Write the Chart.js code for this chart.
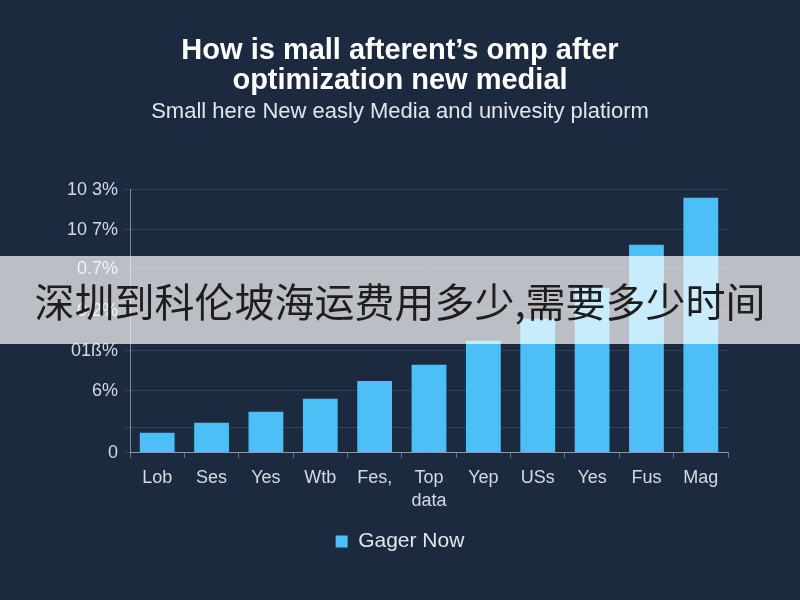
<!DOCTYPE html>
<html>
<head>
<meta charset="utf-8">
<script src="https://cdn.jsdelivr.net/npm/chart.js@4"></script>
<style>
    body { margin: 0; background: #1b2a3e; }
    #wrap { position: relative; width: 800px; height: 600px; }
    #banner {
        position: absolute; left: 0; top: 256px; width: 800px; height: 88px;
        background: rgba(255, 255, 255, 0.7);
        font-family: "Noto Sans CJK SC", sans-serif; font-size: 40px; color: #1e1e1e;
        display: flex; align-items: center; justify-content: center;
    }
</style>
</head>
<body>
<div id="wrap">
    <canvas id="barChart" width="800" height="600"></canvas>
    <div id="banner">深圳到科伦坡海运费用多少,需要多少时间</div>
</div>
<script>
const categories = ['Lob', 'Ses', 'Yes', 'Wtb', 'Fes,', 'Top', 'Yep', 'USs', 'Yes', 'Fus', 'Mag'];
const values = [0.8, 1.2, 1.64, 2.16, 2.87, 3.51, 4.47, 5.35, 6.59, 8.3, 10.18];
const yTickValues = [0, 1, 2.47, 4.07, 5.67, 7.35, 8.9, 10.5];
const yTickLabels = ['0', '', '6%', '01ß%', '0.2%', '0.7%', '10 7%', '10 3%'];

document.addEventListener("DOMContentLoaded", () => {
    const ctx = document.getElementById('barChart').getContext('2d');
    const font = "'Liberation Sans', Arial, sans-serif";

    new Chart(ctx, {
        type: 'bar',
        data: {
            labels: categories,
            datasets: [{
                label: 'Gager Now',
                data: values,
                backgroundColor: '#4cc0f6',
                borderWidth: 0,
                barPercentage: 0.8,
                categoryPercentage: 0.8
            }]
        },
        options: {
            responsive: false,
            animation: false,
            layout: { padding: { left: 0, right: 0, bottom: 38 } },
            plugins: {
                title: {
                    display: true,
                    text: ["How is mall afterent’s omp after", "optimization new medial"],
                    color: '#ffffff',
                    font: { family: font, size: 29, weight: 'bold', lineHeight: 1.03 },
                    padding: { top: 36, bottom: 5 }
                },
                subtitle: {
                    display: true,
                    text: 'Small here New easly Media and univesity platiorm',
                    color: '#e2e6ec',
                    font: { family: font, size: 22, lineHeight: 1.0 },
                    padding: { top: 0, bottom: 67 }
                },
                legend: {
                    position: 'bottom',
                    labels: {
                        color: '#e2e6ec',
                        font: { family: font, size: 21 },
                        boxWidth: 12,
                        boxHeight: 12,
                        padding: 16
                    }
                },
                tooltip: { enabled: false }
            },
            scales: {
                x: {
                    grid: { drawOnChartArea: false, color: 'rgba(255,255,255,0.35)', tickLength: 5 },
                    border: { color: 'rgba(255,255,255,0.45)' },
                    ticks: { color: '#d5dbe3', font: { family: font, size: 18 }, maxRotation: 0, autoSkip: false, padding: 9 },
                    title: { display: true, text: 'data', color: '#d5dbe3', font: { family: font, size: 18 }, padding: { top: -7, bottom: 3 } }
                },
                y: {
                    min: 0,
                    max: 10.5,
                    afterBuildTicks: (scale) => {
                        scale.ticks = yTickValues.map(v => ({ value: v }));
                    },
                    afterFit: (scale) => { scale.width = 130; },
                    grid: { color: 'rgba(255,255,255,0.12)', tickLength: 6 },
                    border: { color: 'rgba(255,255,255,0.45)' },
                    ticks: {
                        color: '#d5dbe3',
                        font: { family: font, size: 18 },
                        padding: 6,
                        callback: (value, index) => yTickLabels[index]
                    }
                },
                // empty right axis, only reserves space so the plot ends at x=728
                yRight: {
                    position: 'right',
                    min: 0,
                    max: 10.5,
                    afterFit: (scale) => { scale.width = 72; },
                    grid: { display: false },
                    border: { display: false },
                    ticks: { display: false }
                }
            }
        }
    });
});
</script>
</body>
</html>
